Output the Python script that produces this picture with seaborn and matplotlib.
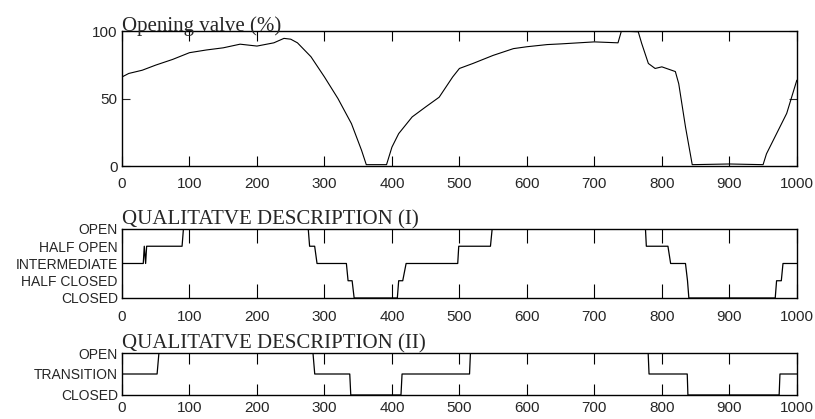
import matplotlib
matplotlib.use('Agg')
import matplotlib.pyplot as plt
import seaborn as sns

# opening valve (%)
tiempo = [0, 10, 30, 50, 75, 100, 125, 150, 175, 200, 225, 240, 250, 260, 280, 300,
          320, 340, 355, 362, 392, 400, 410, 430, 450, 470, 490, 500, 520, 550, 580,
          600, 630, 650, 700, 735, 740, 765, 770, 780, 790, 800, 820, 825, 835, 845,
          900, 950, 955, 970, 985, 1000]
apertura = [66, 68.6, 71, 74.8, 79, 84, 86, 87.6, 90.3, 88.9, 91.3, 94.6, 94, 91.3, 81, 66,
            50, 31.4, 11.6, 1, 1, 14, 24, 36.4, 43.8, 51, 66, 72.3, 76, 82, 87,
            88.4, 90, 90.5, 92, 91.3, 100, 99.5, 91, 76, 72.3, 73.5, 70, 61, 29, 1,
            1.5, 1, 9, 24, 39, 63.6]

# qualitative description (I): 0 closed .. 4 open
t_cual1 = [0, 31.5, 33, 35, 36.5, 89, 91, 276, 278, 285.5, 289, 332.5, 335, 341, 344,
           408, 410, 416, 421, 497.5, 499, 546, 548.5, 775.7, 777, 809, 813, 835, 838,
           840, 968, 970, 977, 979.5, 1000]
nivel1 = [2, 2, 3, 2, 3, 3, 4, 4, 3, 3, 2, 2, 1, 1, 0,
          0, 1, 1, 2, 2, 3, 3, 4, 4, 3, 3, 2, 2, 1,
          0, 0, 1, 1, 2, 2]
etiquetas1 = ['CLOSED', 'HALF CLOSED', 'INTERMEDIATE', 'HALF OPEN', 'OPEN']

# qualitative description (II): 0 closed, 1 transition, 2 open
t_cual2 = [0, 52, 54.7, 283, 285.6, 337.5, 339, 413.4, 415, 515, 516.3, 779.7, 781,
           837.6, 838.6, 973.8, 975, 1000]
nivel2 = [1, 1, 2, 2, 1, 1, 0, 0, 1, 1, 2, 2, 1, 1, 0, 0, 1, 1]
etiquetas2 = ['CLOSED', 'TRANSITION', 'OPEN']

sns.set_style('white')
plt.rcParams['font.family'] = ['Liberation Sans', 'DejaVu Sans']

fig = plt.figure(figsize=(8.15, 4.19), dpi=100)
ax1 = fig.add_axes([0.1497, 0.6038, 0.828, 0.322])
ax2 = fig.add_axes([0.1497, 0.2888, 0.828, 0.1647])
ax3 = fig.add_axes([0.1497, 0.0573, 0.828, 0.1002])

sns.lineplot(x=tiempo, y=apertura, ax=ax1, color='black', linewidth=0.8,
             estimator=None, sort=False)
sns.lineplot(x=t_cual1, y=nivel1, ax=ax2, color='black', linewidth=0.9,
             estimator=None, sort=False)
sns.lineplot(x=t_cual2, y=nivel2, ax=ax3, color='black', linewidth=0.9,
             estimator=None, sort=False)

titulos = ['Opening valve (%)', 'QUALITATVE DESCRIPTION (I)', 'QUALITATVE DESCRIPTION (II)']
pads = [0, 3, 3]
for ax, titulo, pad in zip([ax1, ax2, ax3], titulos, pads):
    ax.set_xlim(0, 1000)
    ax.set_xticks(range(0, 1001, 100))
    ax.set_title(titulo, loc='left', pad=pad, fontsize=15, family='Liberation Serif')
    for s in ax.spines.values():
        s.set_color('black')
        s.set_linewidth(1.0)
    ax.tick_params(axis='x', direction='in', top=True, bottom=True, length=7,
                   labelsize=11, pad=8, color='black')

ax1.set_ylim(0, 100)
ax1.set_yticks([0, 50, 100])
ax1.tick_params(axis='y', direction='in', left=True, right=True, length=6,
                labelsize=11, pad=3)

ax2.set_ylim(0, 4)
ax2.set_yticks(range(5))
ax2.set_yticklabels(etiquetas1)
ax2.tick_params(axis='y', length=0, labelsize=10, pad=3)
ax2.tick_params(axis='x', length=10, pad=9)

ax3.set_ylim(0, 2)
ax3.set_yticks(range(3))
ax3.set_yticklabels(etiquetas2)
ax3.tick_params(axis='y', length=0, labelsize=10, pad=3)
ax3.tick_params(axis='x', length=8, pad=4)

fig.savefig('out.png', dpi=100)
